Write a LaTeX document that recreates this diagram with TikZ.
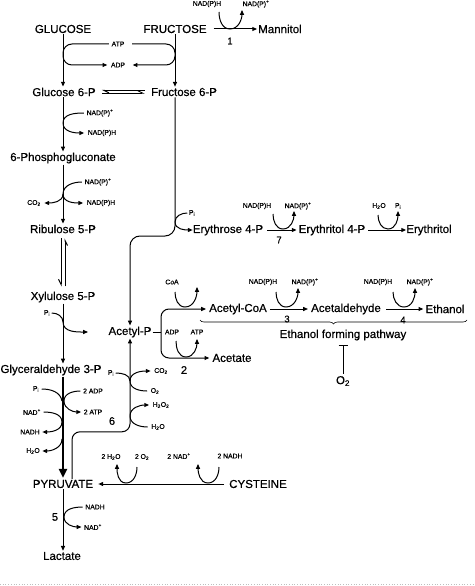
\documentclass[tikz,border=0pt]{standalone}
\usepackage{fontspec}
\setmainfont{Liberation Sans}[FakeBold=0.6]
\newfontfamily\thinfont{Liberation Sans}
\usetikzlibrary{arrows.meta,decorations.pathreplacing,calc}
\tikzset{
  big/.style={font=\fontsize{11.5}{13}\selectfont, inner sep=1pt},
  sm/.style={font=\fontsize{6.8}{8}\selectfont, inner sep=0.5pt},
  num/.style={font=\fontsize{11}{12}\selectfont, inner sep=0.5pt},
  snum/.style={font=\fontsize{9.5}{11}\selectfont, inner sep=0.5pt},
  ln/.style={line width=1pt},
  arr/.style={ln, -{Triangle[length=4.8pt,width=4pt]}},
  hp/.style={ln, -{Straight Barb[harpoon,length=5pt,width=5pt]}},
  hps/.style={ln, -{Straight Barb[harpoon,swap,length=5pt,width=5pt]}},
}
\begin{document}
\begin{tikzpicture}[x=1pt,y=-1pt]
\useasboundingbox (0,0) rectangle (474,586);
% ---------- top
\node[big] (glc) at (63,29) {GLUCOSE};
\node[big] (fru) at (175,29) {FRUCTOSE};
\node[big] (man) at (280,29) {Mannitol};
\node[sm] (atp) at (118,44) {ATP};
\node[sm] (adp) at (118,65) {ADP};
\node[big] (g6p) at (64,92) {Glucose 6-P};
\node[big] (f6p) at (184,92) {Fructose 6-P};
\draw[arr] ([xshift=6pt]fru.east) -- (man.west);
\node[sm] (m1a) at (207,4) {NAD(P)H};
\node[sm] (m1b) at (256,4) {NAD(P)\textsuperscript{+}};
\draw[arr] (219,12) to[out=-90,in=180] (230,29) to[out=0,in=-90] (242,10);
\node[snum] (n1) at (230,41) {1};
\draw[arr] (glc.south) -- (glc.south |- g6p.north);
\draw[arr] (fru.south) -- (fru.south |- f6p.north);
\draw[arr,rounded corners=9pt] ([xshift=-2pt]atp.west) -- (63,44) -- (63,65) -- ([xshift=-3pt]adp.west);
\draw[arr,rounded corners=9pt] ([xshift=7pt]atp.east) -- (175,44) -- (175,65) -- ([xshift=7pt]adp.east);
\draw[hp] ([xshift=-5pt,yshift=1.6pt]f6p.west) -- ([xshift=5pt,yshift=1.6pt]g6p.east);
\draw[hp] ([xshift=5pt,yshift=-1.2pt]g6p.east) -- ([xshift=-5pt,yshift=-1.2pt]f6p.west);
% ---------- oxidative branch
\node[big] (pg) at (63,158) {6-Phosphogluconate};
\node[sm] (na1) at (100,113) {NAD(P)\textsuperscript{+}};
\node[sm] (nb1) at (102,133) {NAD(P)H};
\draw[arr] (g6p.south -| glc.south) -- (pg.north);
\draw[ln] ([xshift=-2pt]na1.west) to[out=180,in=90] (63,123);
\draw[arr] (63,123) to[out=-90,in=180] ([xshift=-3pt]nb1.west);
\node[big] (rib) at (63,229) {Ribulose 5-P};
\draw[arr] (pg.south) -- (rib.north);
\node[sm] (na2) at (98,182) {NAD(P)\textsuperscript{+}};
\node[sm] (nb2) at (101,203) {NAD(P)H};
\node[sm] (co2a) at (34,203) {CO\textsubscript{2}};
\draw[ln] ([xshift=-2pt]na2.west) to[out=180,in=90] (63,194);
\draw[arr] (63,194) to[out=-90,in=180] ([xshift=-3pt]nb2.west);
\draw[arr] (63,194) to[out=-90,in=0] ([xshift=3pt]co2a.east);
\node[big] (xyl) at (63,297) {Xylulose 5-P};
\draw[hps] ([xshift=-2pt,yshift=-4pt]rib.south) -- ([xshift=-2pt,yshift=4pt]xyl.north);
\draw[hps] ([xshift=2pt,yshift=4pt]xyl.north) -- ([xshift=2pt,yshift=-4pt]rib.south);
\node[big] (g3p) at (51,370) {Glyceraldehyde 3-P};
\draw[arr] (xyl.south) -- (xyl.south |- g3p.north);
\node[sm] (pix) at (47,313) {P\textsubscript{i}};
\coordinate (xend) at (88,332);
\draw[arr] ([xshift=1pt]pix.east) to[out=0,in=90] (63,322) to[out=-90,in=180] (xend);
% ---------- glycolysis
\node[big] (pyr) at (63,484) {PYRUVATE};
\draw[line width=2.8pt,-{Triangle[length=9pt,width=8pt]}] (g3p.south -| pyr.north) -- ([yshift=1pt]pyr.north);
\node[sm] (pig) at (36,389) {P\textsubscript{i}};
\node[sm] (adp2) at (93,391) {2 ADP};
\node[sm] (atp2) at (93,412) {2 ATP};
\node[sm] (nadg) at (32,412) {NAD\textsuperscript{+}};
\node[sm] (nadhg) at (30,432) {NADH};
\node[sm] (h2og) at (33,451) {H\textsubscript{2}O};
\draw[ln] ([xshift=2pt]pig.east) to[out=0,in=100] (62,401);
\draw[ln] ([xshift=-2pt]adp2.west) to[out=180,in=90] (64,401);
\draw[arr] (64,401) to[out=-90,in=180] ([xshift=-2pt]atp2.west);
\draw[ln] ([xshift=2pt]nadg.east) to[out=0,in=90] (62,422);
\draw[arr] (62,422) to[out=-90,in=0] ([xshift=2pt]nadhg.east);
\draw[arr] (62,439) to[out=-90,in=0] ([xshift=2pt]h2og.east);
% ---------- lactate
\node[big] (lac) at (62,556) {Lactate};
\draw[arr] (pyr.south) -- (pyr.south |- lac.north);
\node[num] (n5) at (55,517) {5};
\node[sm] (nadhl) at (95,507) {NADH};
\node[sm] (nadl) at (93,527) {NAD\textsuperscript{+}};
\draw[ln] ([xshift=-2pt]nadhl.west) to[out=180,in=90] (64,517);
\draw[arr] (64,517) to[out=-90,in=180] ([xshift=-2pt]nadl.west);
% ---------- cysteine
\node[big] (cys) at (258,484) {CYSTEINE};
\draw[arr] ([xshift=-4pt]cys.west) -- ([xshift=4pt]pyr.east);
\node[sm] (cna) at (179,456) {2 NAD\textsuperscript{+}};
\node[sm] (cnb) at (230,456) {2 NADH};
\node[sm] (cwa) at (111,457) {2 H\textsubscript{2}O};
\node[sm] (cwb) at (142,457) {2 O\textsubscript{2}};
\draw[arr] (219,467) to[out=-90,in=0] (208,483) to[out=180,in=-90] (198,464);
\draw[arr] (137,467) to[out=-90,in=0] (126,483) to[out=180,in=-90] (117,464);
% ---------- acetyl-P
\node[big] (acp) at (130,332) {Acetyl-P};
\node[big] (ery) at (228,230) {Erythrose 4-P};
\draw[arr,rounded corners=10pt] (f6p.south -| fru.south) -- (175,236) -| (acp.north);
\node[sm] (pie) at (192,213) {P\textsubscript{i}};
\draw[ln] ([xshift=-1pt]pie.west) to[out=180,in=90] (175,222);
\draw[arr] (175,222) to[out=-90,in=180] ([xshift=1pt]ery.west);
% pyruvate oxidase
\draw[arr,rounded corners=8pt] ([xshift=9pt]pyr.north) -- ++(0,-47) -| (acp.south);
\node[num] (n6) at (112,421) {6};
\node[sm] (pio) at (111,373) {P\textsubscript{i}};
\node[sm] (co2o) at (161,371) {CO\textsubscript{2}};
\node[sm] (o2o) at (155,391) {O\textsubscript{2}};
\node[sm] (h2o2o) at (161,405) {H\textsubscript{2}O\textsubscript{2}};
\node[sm] (h2oo) at (158,427) {H\textsubscript{2}O};
\draw[ln] ([xshift=1pt]pio.east) to[out=0,in=90] (130,381);
\draw[ln] ([xshift=-3pt]o2o.west) to[out=180,in=-90] (130,381);
\draw[arr] (130,381) to[out=90,in=180] ([xshift=-3pt]co2o.west);
\draw[ln] ([xshift=-3pt]h2oo.west) to[out=180,in=-90] (130,416);
\draw[arr] (130,416) to[out=90,in=180] ([xshift=-3pt]h2o2o.west);
% ---------- acetyl branch
\node[big] (acoa) at (238,309) {Acetyl-CoA};
\node[big] (acet) at (232,358) {Acetate};
\node[big] (acald) at (346,309) {Acetaldehyde};
\node[big] (eth) at (445,309) {Ethanol};
\coordinate (br) at (161,332);
\draw[ln] (acp.east) -- (br);
\draw[arr,rounded corners=8pt] (br) |- ([xshift=-2pt]acoa.west);
\draw[arr,rounded corners=8pt] (br) |- ([xshift=-2pt]acet.west);
\node[sm] (coa) at (172,282) {CoA};
\draw[arr] (175,292) to[out=-90,in=180] (185,307) to[out=0,in=-90] (197,287);
\node[sm] (adpb) at (172,332) {ADP};
\node[sm] (atpb) at (197,332) {ATP};
\draw[arr] (176,341) to[out=-90,in=180] (186,357) to[out=0,in=-90] (197,339);
\node[num] (n2) at (184,370) {2};
\draw[arr] ([xshift=2pt]acoa.east) -- ([xshift=-2pt]acald.west);
\node[sm] (n3a) at (263,282) {NAD(P)H};
\node[sm] (n3b) at (305,282) {NAD(P)\textsuperscript{+}};
\draw[arr] (276,292) to[out=-90,in=180] (286,307) to[out=0,in=-90] (298,288);
\node[snum] (n3) at (287,319) {3};
\draw[arr] ([xshift=4pt]acald.east) -- ([xshift=-1pt]eth.west);
\node[sm] (n4a) at (378,282) {NAD(P)H};
\node[sm] (n4b) at (420,282) {NAD(P)\textsuperscript{+}};
\draw[arr] (393,292) to[out=-90,in=180] (404,307) to[out=0,in=-90] (415,288);
\node[snum] (n4) at (403,320) {4};
\draw[line width=0.6pt,decorate,decoration={brace,amplitude=4pt,mirror}] (200,320) -- (467,320);
\node[big] (efp) at (343,335) {Ethanol forming pathway};
\node[big] (o2b) at (343,381) {O\textsubscript{2}};
\draw[ln,-{Bar[width=9pt]}] ([yshift=1pt]o2b.north) -- ([yshift=-3pt]efp.south);
% ---------- erythritol
\node[big] (e4p) at (332,230) {Erythritol 4-P};
\node[big] (ert) at (429,230) {Erythritol};
\draw[arr] ([xshift=3pt]ery.east) -- ([xshift=-1pt]e4p.west);
\node[sm] (n7a) at (257,206) {NAD(P)H};
\node[sm] (n7b) at (298,206) {NAD(P)\textsuperscript{+}};
\draw[arr] (273,214) to[out=-90,in=180] (283,229) to[out=0,in=-90] (294,211);
\node[snum] (n7) at (279,240) {7};
\draw[arr] ([xshift=2pt]e4p.east) -- ([xshift=1pt]ert.west);
\node[sm] (wh) at (379,206) {H\textsubscript{2}O};
\node[sm] (wp) at (398,206) {P\textsubscript{i}};
\draw[arr] (378,215) to[out=-90,in=180] (388,229) to[out=0,in=-90] (398,211);
% ---------- frame line
\draw[gray!50,dotted,line width=0.7pt] (0,584) -- (474,584);
\end{tikzpicture}
\end{document}
